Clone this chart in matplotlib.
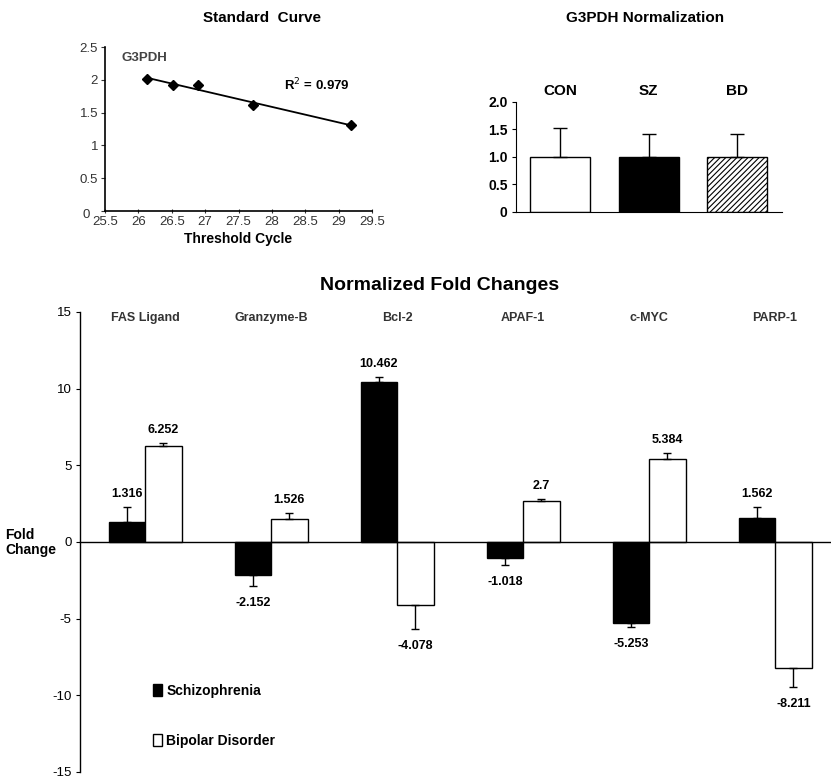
import matplotlib
matplotlib.use("Agg")
import matplotlib.pyplot as plt
import matplotlib.transforms as mtransforms
import numpy as np

plt.rcParams['font.family'] = ['Liberation Sans', 'DejaVu Sans']
plt.rcParams['axes.unicode_minus'] = False
plt.rcParams['hatch.color'] = '#555555'
plt.rcParams['hatch.linewidth'] = 0.8

# standard curve data
cycles = [26.13, 26.52, 26.9, 27.72, 29.18]
log_conc = [2.01, 1.92, 1.92, 1.62, 1.31]
r_squared = 0.979

# G3PDH normalization
groups = ['CON', 'SZ', 'BD']
norm_vals = [1.0, 1.0, 1.0]
norm_err = [0.53, 0.41, 0.41]

# normalized fold changes
genes = ['FAS Ligand', 'Granzyme-B', 'Bcl-2', 'APAF-1', 'c-MYC', 'PARP-1']
sz_vals = [1.316, -2.152, 10.462, -1.018, -5.253, 1.562]
sz_err = [0.95, 0.7, 0.3, 0.5, 0.3, 0.7]
bd_vals = [6.252, 1.526, -4.078, 2.7, 5.384, -8.211]
bd_err = [0.2, 0.35, 1.6, 0.1, 0.45, 1.25]

fig = plt.figure(figsize=(8.31, 7.79), dpi=100)

# ---- Standard curve ----
ax1 = fig.add_axes([0.1264, 0.7291, 0.3213, 0.2105])
ax1.plot(cycles, log_conc, 'D', color='black', markersize=5)
slope, icpt = np.polyfit(cycles, log_conc, 1)
xx = np.array([cycles[0], cycles[-1]])
ax1.plot(xx, slope * xx + icpt, color='black', lw=1.3)
ax1.set_xlim(25.5, 29.5)
ax1.set_ylim(0, 2.5)
ax1.set_xticks(np.arange(25.5, 29.6, 0.5))
ax1.set_xticklabels(['25.5', '26', '26.5', '27', '27.5', '28', '28.5', '29', '29.5'])
ax1.set_yticks([0, 0.5, 1, 1.5, 2, 2.5])
ax1.set_yticklabels(['0', '0.5', '1', '1.5', '2', '2.5'])
ax1.tick_params(labelsize=9.5, length=3, width=0.8, colors='#333333', pad=2)
ax1.tick_params(axis='x', direction='inout')
# nudge the "0" label left so it clears "25.5"
zero_lbl = ax1.get_yticklabels()[0]
zero_lbl.set_transform(zero_lbl.get_transform() +
                       mtransforms.ScaledTranslation(-0.08, -0.02, fig.dpi_scale_trans))
for s in ['top', 'right']:
    ax1.spines[s].set_visible(False)
for s in ['left', 'bottom']:
    ax1.spines[s].set_linewidth(1.2)
ax1.text(0.06, 0.97, 'G3PDH', transform=ax1.transAxes, fontsize=9.5,
         fontweight='bold', color='#444444', va='top')
ax1.text(0.67, 0.77, 'R$^2$ = 0.979', transform=ax1.transAxes, fontsize=9.5,
         fontweight='bold', va='center')
ax1.set_xlabel('Threshold Cycle', fontsize=10, fontweight='bold', labelpad=3)
fig.text(0.315, 0.977, 'Standard  Curve', ha='center', va='center',
         fontsize=11, fontweight='bold')

# ---- G3PDH normalization ----
ax2 = fig.add_axes([0.621, 0.7279, 0.320, 0.1412])
xpos = np.arange(len(groups))
bars = ax2.bar(xpos, norm_vals, width=0.68, color=['white', 'black', 'white'],
               edgecolor='black', linewidth=1.0)
bars[2].set_hatch('//////')
ax2.errorbar(xpos, norm_vals, yerr=[[0, 0, 0], norm_err], fmt='none',
             ecolor='black', elinewidth=1, capsize=5, capthick=1)
for x, g in zip(xpos, groups):
    ax2.text(x, 2.08, g, ha='center', va='bottom', fontsize=11, fontweight='bold')
ax2.set_xlim(-0.5, 2.51)
ax2.set_ylim(0, 2.0)
ax2.set_xticks([])
ax2.set_yticks([0, 0.5, 1.0, 1.5, 2.0])
ax2.set_yticklabels(['0', '0.5', '1.0', '1.5', '2.0'], fontweight='bold')
ax2.tick_params(labelsize=10, length=3, width=0.8, pad=3)
for s in ['top', 'right']:
    ax2.spines[s].set_visible(False)
fig.text(0.776, 0.977, 'G3PDH Normalization', ha='center', va='center',
         fontsize=11, fontweight='bold')

# ---- Normalized fold changes ----
ax3 = fig.add_axes([0.0963, 0.009, 0.9037, 0.5905])
gx = np.arange(len(genes))
w = 0.29
ax3.bar(gx - w / 2, sz_vals, width=w, color='black', edgecolor='black',
        linewidth=1, label='Schizophrenia')
ax3.bar(gx + w / 2, bd_vals, width=w, color='white', edgecolor='black',
        linewidth=1, label='Bipolar Disorder')


def one_sided(vals, errs):
    lo = [e if v < 0 else 0 for v, e in zip(vals, errs)]
    hi = [e if v >= 0 else 0 for v, e in zip(vals, errs)]
    return [lo, hi]


ax3.errorbar(gx - w / 2, sz_vals, yerr=one_sided(sz_vals, sz_err), fmt='none',
             ecolor='black', elinewidth=1, capsize=3, capthick=1)
ax3.errorbar(gx + w / 2, bd_vals, yerr=one_sided(bd_vals, bd_err), fmt='none',
             ecolor='black', elinewidth=1, capsize=3, capthick=1)

for xs, vals, errs in [(gx - w / 2, sz_vals, sz_err), (gx + w / 2, bd_vals, bd_err)]:
    for x, v, e in zip(xs, vals, errs):
        end = v + e if v >= 0 else v - e
        off = 5 if v >= 0 else -8
        ax3.annotate(f'{v:g}', (x, end), xytext=(0, off), textcoords='offset points',
                     ha='center', va='bottom' if v >= 0 else 'top',
                     fontsize=9, fontweight='bold')

for x, g in zip(gx, genes):
    ax3.text(x, 14.6, g, ha='center', va='center', fontsize=9,
             fontweight='bold', color='#333333')

ax3.set_xlim(-0.516, 5.444)
ax3.set_ylim(-15, 15)
ax3.set_xticks([])
ax3.set_yticks([-15, -10, -5, 0, 5, 10, 15])
ax3.tick_params(labelsize=9.5, length=3, width=0.8, pad=3)
ax3.spines['bottom'].set_position(('data', 0))
for s in ['top', 'right']:
    ax3.spines[s].set_visible(False)
for s in ['left', 'bottom']:
    ax3.spines[s].set_linewidth(1.0)

ax3.legend(loc='lower left', bbox_to_anchor=(0.08, 0.025), frameon=False,
           handlelength=0.7, handleheight=0.9, handletextpad=0.3,
           labelspacing=2.6, prop={'weight': 'bold', 'size': 10})

fig.text(0.006, 0.3035, 'Fold\nChange', ha='left', va='center', fontsize=10,
         fontweight='bold', linespacing=1.1)
fig.text(0.529, 0.634, 'Normalized Fold Changes', ha='center', va='center',
         fontsize=14, fontweight='bold')

fig.savefig('out.png', dpi=100)
